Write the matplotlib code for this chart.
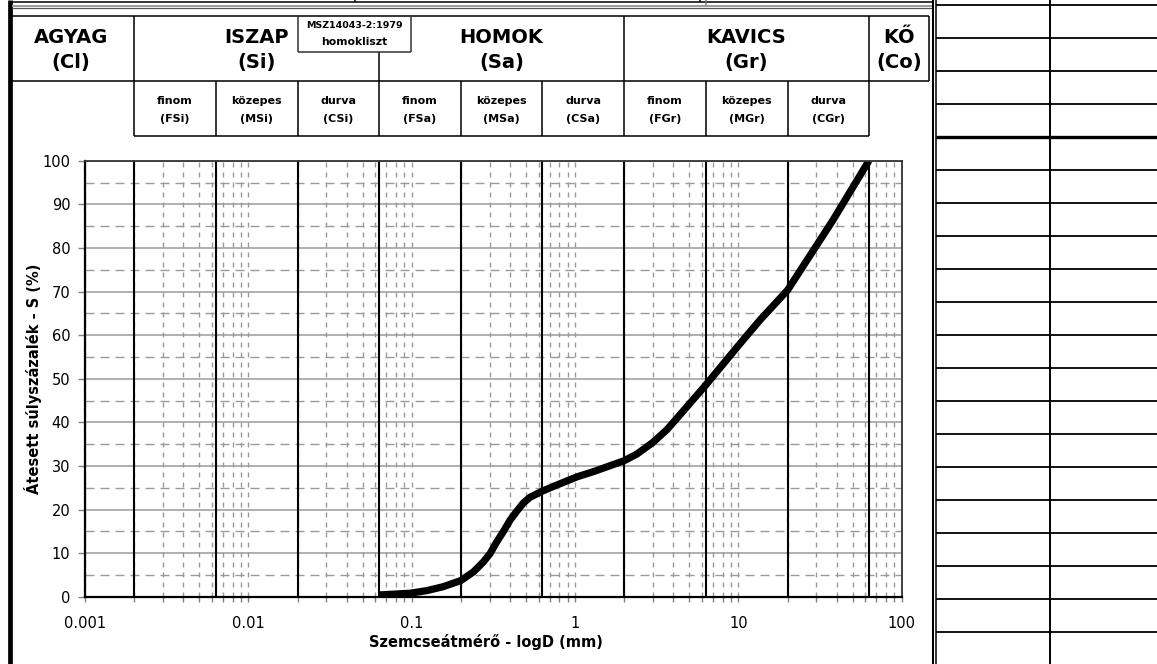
import numpy as np
import matplotlib
matplotlib.use("Agg")
import matplotlib.pyplot as plt
from matplotlib.ticker import FixedLocator, FixedFormatter, NullFormatter

W, H, DPI = 1157, 664, 100

# Grain size distribution curve
grain_mm = [0.063, 0.098, 0.124, 0.156, 0.2, 0.239, 0.275, 0.302, 0.332,
            0.365, 0.401, 0.44, 0.483, 0.53, 0.63, 0.738, 1.03, 1.30, 2.0,
            2.39, 3.0, 3.65, 4.2, 6.3, 10.7, 13.6, 20.0, 38.0, 63.0]
passing_pct = [0.4, 0.8, 1.4, 2.3, 3.7, 5.7, 8.0, 9.9, 12.6,
               15.0, 17.6, 19.6, 21.5, 22.8, 24.2, 25.3, 27.5, 28.7, 31.2,
               32.7, 35.4, 38.3, 40.9, 48.5, 58.9, 63.5, 70.3, 86.4, 100.0]

# Axis ticks
x_ticks = [0.001, 0.01, 0.1, 1, 10, 100]
x_ticklabels = ["0.001", "0.01", "0.1", "1", "10", "100"]
y_ticks = list(range(0, 101, 10))
y_minor_ticks = list(range(5, 100, 10))

# Fraction limits (mm)
boundaries = [0.002, 0.0063, 0.02, 0.063, 0.2, 0.63, 2, 6.3, 20, 63]

main_names = ["AGYAG", "ISZAP", "HOMOK", "KAVICS", "KŐ"]
main_codes = ["(Cl)", "(Si)", "(Sa)", "(Gr)", "(Co)"]
sub_names = ["finom", "közepes", "durva"] * 3
sub_codes = ["(FSi)", "(MSi)", "(CSi)", "(FSa)", "(MSa)", "(CSa)",
             "(FGr)", "(MGr)", "(CGr)"]
standard_note = ["MSZ14043-2:1979", "homokliszt"]

fig = plt.figure(figsize=(W / DPI, H / DPI), dpi=DPI)
fig.patch.set_facecolor("white")

# Overlay in pixel units for the frame and header table
ov = fig.add_axes([0, 0, 1, 1])
ov.set_xlim(0, W)
ov.set_ylim(H, 0)
ov.axis("off")

# Diagram axes
L, R, T, B = 85, 901.7, 160.7, 596.7
ax = fig.add_axes([L / W, 1 - B / H, (R - L) / W, (B - T) / H])
ax.set_xscale("log")
ax.set_xlim(0.001, 100)
ax.set_ylim(0, 100)

ax.set_yticks(y_ticks)
ax.set_yticks(y_minor_ticks, minor=True)
ax.xaxis.set_major_locator(FixedLocator(x_ticks))
ax.xaxis.set_major_formatter(FixedFormatter(x_ticklabels))
minor_x = [m * 10.0 ** e for e in range(-3, 2) for m in range(2, 10)]
ax.xaxis.set_minor_locator(FixedLocator(minor_x))
ax.xaxis.set_minor_formatter(NullFormatter())

grid_c = "#9a9a9a"
ax.grid(True, which="major", axis="y", color=grid_c, lw=1.1, ls="-")
ax.grid(True, which="minor", axis="y", color=grid_c, lw=1.0, ls=(0, (6.5, 4.3)))
ax.grid(True, which="both", axis="x", color=grid_c, lw=1.0, ls=(0, (3.6, 3.6)))
ax.set_axisbelow(True)

ax.tick_params(axis="x", which="both", direction="out", length=3.6, width=1,
               color="#808080", pad=10.5, labelsize=10.5)
ax.tick_params(axis="y", which="major", direction="out", length=5, width=1,
               color="#808080", pad=5.5, labelsize=10.5)
ax.tick_params(axis="y", which="minor", length=0)

for b in boundaries:
    ax.axvline(b, color="black", lw=1.5, zorder=3)

ax.plot(grain_mm, passing_pct, color="black", lw=5.2,
        solid_joinstyle="round", solid_capstyle="butt", zorder=5)

for s in ("left", "bottom"):
    ax.spines[s].set_color("black")
    ax.spines[s].set_linewidth(1.6)
for s in ("top", "right"):
    ax.spines[s].set_color("#333333")
    ax.spines[s].set_linewidth(1.3)
for sp in ax.spines.values():
    sp.set_zorder(6)

ax.set_xlabel("Szemcseátmérő - logD (mm)", fontweight="bold", fontsize=10.5)
ax.xaxis.set_label_coords((486 - L) / (R - L), (B - 634) / (B - T))
ax.set_ylabel("Átesett súlyszázalék - S (%)", fontweight="bold", fontsize=10.5)
ax.yaxis.set_label_coords((42 - L) / (R - L), 0.5)


def px(d):
    return ax.transData.transform((d, 1))[0]


def seg(x0, y0, x1, y1, lw=1.1, c="black"):
    ov.plot([x0, x1], [y0, y1], color=c, lw=lw, solid_capstyle="butt")


bx = [px(b) for b in boundaries]

# Outer frame and top strip
seg(9.5, 0, 9.5, H, lw=3.4)
seg(12, 2, 932, 2, lw=1.1)
seg(355, 0, 355, 2, lw=1.1)
seg(700, 0, 700, 2, lw=1.1)
seg(706, 0, 706, 5, lw=1.1, c="#777777")
seg(12, 5.5, 932, 5.5, lw=1.4, c="#9a9a9a")
seg(12, 8, 932, 8, lw=0.9, c="#555555")

# Header table
top_y, mid_y, bot_y, note_y = 16, 81, 136, 52
right_x = 929
seg(12, top_y, right_x, top_y)
seg(12, mid_y, right_x, mid_y)
seg(right_x, top_y, right_x, mid_y)
seg(bx[0], bot_y, bx[-1], bot_y)
seg(bx[0], top_y, bx[0], bot_y)
seg(bx[3], note_y, bx[3], bot_y)
seg(bx[6], top_y, bx[6], bot_y)
seg(bx[9], top_y, bx[9], bot_y)
for i in (1, 2, 4, 5, 7, 8):
    seg(bx[i], mid_y, bx[i], bot_y)

# Standard note box
note_r = 411
seg(bx[2], top_y, bx[2], note_y, c="#333333")
seg(bx[2], note_y, note_r, note_y, c="#333333")
seg(note_r, top_y, note_r, note_y, c="#333333")
note_cx = (bx[2] + note_r) / 2
ov.text(note_cx, 27.7, standard_note[0], ha="center", va="baseline",
        fontsize=6.8, fontweight="bold")
ov.text(note_cx, 45, standard_note[1], ha="center", va="baseline",
        fontsize=7.8, fontweight="bold")

# Main class labels
main_cx = [71,
           px(np.sqrt(boundaries[0] * boundaries[3])),
           px(np.sqrt(boundaries[3] * boundaries[6])),
           px(np.sqrt(boundaries[6] * boundaries[9])),
           (bx[9] + right_x) / 2]
for cx, name, code in zip(main_cx, main_names, main_codes):
    ov.text(cx, 43, name, ha="center", va="baseline", fontsize=14,
            fontweight="bold")
    ov.text(cx, 68, code, ha="center", va="baseline", fontsize=14,
            fontweight="bold")

# Sub class labels
for i, (name, code) in enumerate(zip(sub_names, sub_codes)):
    cx = (bx[i] + bx[i + 1]) / 2
    ov.text(cx, 104, name, ha="center", va="baseline", fontsize=8,
            fontweight="bold")
    ov.text(cx, 122.5, code, ha="center", va="baseline", fontsize=8,
            fontweight="bold")

# Side table
seg(932.5, 0, 932.5, H, lw=1.5)
seg(936, 0, 936, H, lw=1.1)
seg(1049.5, 0, 1049.5, H, lw=1.4)
for n in range(20):
    y = 4.7 + 33.03 * n
    seg(936, y, W, y, lw=2.4 if n == 4 else 1.3)

fig.savefig("out.png", dpi=DPI, facecolor="white")
